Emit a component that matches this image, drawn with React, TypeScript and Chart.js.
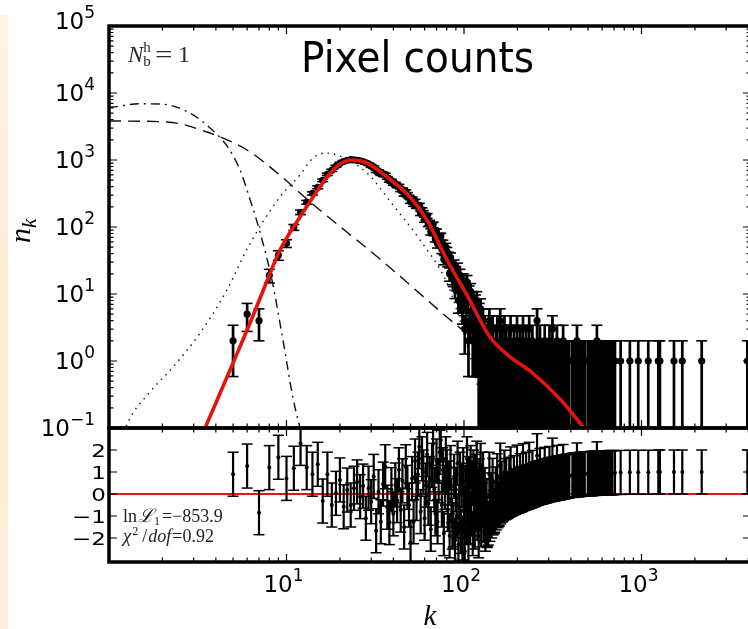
import React, { useEffect, useRef } from "react";
import { Chart, registerables } from "chart.js";

Chart.register(...registerables);

// ---------------- data ----------------
// pixel-count bins k (dense part)
const K_CORE = [
  5, 6, 7, 8, 9, 10, 11, 12, 13, 14,
  15, 16, 17, 18, 19, 20, 21, 22, 23, 24,
  25, 26, 27, 28, 29, 30, 31, 32, 33, 34,
  35, 36, 37, 38, 39, 40, 41, 42, 43, 44,
  45, 46, 47, 48, 49, 50, 51, 52, 53, 54,
  55, 56, 57, 58, 59, 60, 61, 62, 63, 64,
  65, 66, 67, 68, 69, 70, 71, 72, 73, 74,
  75, 76, 77, 78, 79, 80, 81, 82, 83, 84,
  85, 86, 87, 88, 89, 90, 91, 92, 93, 94,
  95, 96, 97, 98, 99, 100, 101, 102, 103, 104,
  105, 106, 107, 108, 109, 110, 111, 112, 113, 114,
  115, 116, 117, 118, 119, 120, 121, 122, 123, 124,
  125, 126, 127, 128, 129, 130,
];
const N_CORE = [
  2, 5, 4, 19, 38, 57, 99, 166, 234, 318,
  391, 498, 612, 702, 806, 893, 957, 991, 1010, 1005,
  990, 975, 945, 910, 875, 804, 788, 678, 686, 614,
  623, 611, 543, 488, 492, 441, 444, 406, 412, 356,
  363, 307, 340, 308, 281, 241, 265, 218, 243, 204,
  207, 211, 161, 180, 163, 129, 139, 147, 112, 115,
  85, 105, 108, 83, 68, 84, 56, 67, 72, 72,
  47, 56, 33, 44, 50, 43, 31, 36, 20, 35,
  26, 18, 17, 27, 12, 21, 15, 24, 8, 14,
  19, 8, 15, 6, 16, 9, 3, 12, 6, 15,
  8, 2, 10, 4, 11, 5, 8, 2, 8, 5,
  2, 7, 4, 8, 2, 4, 1, 5, 2, 6,
  1, 4, 2, 4, 1, 2,
];
const R_CORE = [
  0.9, 1.27, -0.85, 1.2, 1.67, 0.71, 1.17, 2.3, 1.2, 0.9,
  1.35, -0.32, 0.9, -0.5, 0.03, 0.64, -0.58, 0.18, -0.5, 0.26,
  0.55, -0.12, 0.36, -1.1, 0.26, -0.35, 0.8, -1.67, 0.1, -1.26,
  0.45, 1.24, -0.6, -1.3, 0.2, -0.9, 0.41, -0.3, 1.1, -0.73,
  0.6, -1.5, 1.24, 0.3, -0.5, -2.2, 0.7, -1.26, 1.5, -0.2,
  0.9, 2.15, -0.8, 1.6, 1.0, -1.1, 0.4, 1.8, -0.42, 0.7,
  -1.6, 1.3, 2.3, 0.2, -0.9, 1.5, -1.26, 0.6, 1.9, 2.45,
  -0.5, 1.1, -1.8, 0.3, 1.6, 1.0, -0.7, 0.5, -1.9, 1.2,
  -0.3, -1.5, -1.4, 0.8, -2.1, 0.2, -1.0, 1.4, -2.3, -0.6,
  0.9, -1.7, 0.4, -2.0, 1.1, -0.8, -2.6, 0.3, -1.3, 1.6,
  -0.4, -2.2, 0.7, -1.26, 1.2, -0.9, 0.5, -1.8, 1.0, -0.2,
  -1.5, 0.8, -0.6, 1.4, -1.1, 0.1, -1.9, 0.6, -0.7, 1.3,
  -1.4, 0.2, -0.5, 0.9, -1.2, -0.3,
];

// sparse tail (bins with at least one pixel)
const K_TAIL = [
  131, 134, 136, 139, 142, 145, 148, 151, 154, 157,
  160, 163, 166, 169, 173, 176, 180, 183, 187, 191,
  195, 199, 203, 207, 211, 215, 220, 224, 229, 233,
  238, 243, 248, 253, 258, 263, 268, 274, 279, 285,
  291, 297, 303, 309, 315, 321, 328, 334, 341, 348,
  355, 362, 369, 377, 384, 392, 408, 416, 425, 433,
  442, 451, 460, 469, 479, 498, 508, 518, 529, 539,
  550, 561, 573, 584, 596, 608, 620, 633, 646, 659,
  672, 686, 709, 763, 860, 959, 1092, 1244, 1270, 1524,
  1698, 2184, 3950,
];
const N_TAIL = [
  3, 2, 1, 4, 2, 3, 1, 2, 3, 1,
  4, 2, 1, 3, 2, 1, 2, 3, 1, 2,
  1, 3, 1, 2, 1, 3, 1, 2, 1, 3,
  1, 2, 1, 1, 4, 1, 2, 1, 1, 2,
  1, 1, 2, 1, 3, 1, 1, 2, 1, 1,
  1, 2, 1, 1, 1, 1, 1, 1, 1, 2,
  1, 1, 1, 1, 1, 1, 1, 1, 1, 1,
  1, 2, 1, 1, 1, 1, 1, 1, 1, 1,
  1, 1, 1, 1, 1, 1, 1, 1, 1, 1,
  1, 1, 1,
];
const R_TAIL = [
  0.18, -0.35, -1.38, 0.9, -0.04, 0.62, -0.8, 0.23, 0.83, -0.48,
  1.31, 0.49, -0.23, 0.99, 0.61, -0.11, 0.67, 1.14, 0.01, 0.74,
  0.08, 1.22, 0.14, 0.83, 0.2, 1.29, 0.26, 0.9, 0.31, 1.35,
  0.36, 0.98, 0.42, 0.45, 1.74, 0.5, 1.07, 0.54, 0.56, 1.12,
  0.6, 0.62, 1.16, 0.66, 1.54, 0.69, 0.7, 1.21, 0.73, 0.74,
  0.76, 1.25, 0.79, 0.8, 0.81, 0.82, 0.85, 0.85, 0.86, 1.32,
  0.88, 0.89, 0.9, 0.9, 0.91, 0.92, 0.92, 0.93, 0.93, 0.94,
  0.94, 1.37, 0.95, 0.95, 0.95, 0.96, 0.96, 0.96, 0.96, 0.97,
  0.97, 0.97, 0.97, 0.98, 0.99, 0.99, 0.99, 1.0, 1.0, 1.0,
  1.0, 1.0, 1.0,
];

// further single-pixel bins in the tail (n = 1)
const K_SINGLE = [
  132, 135, 137, 140, 143, 146, 149, 152, 155, 158,
  161, 164, 167, 171, 174, 178, 181, 185, 189, 193,
  197, 201, 205, 209, 213, 217, 222, 226, 231, 235,
  240, 245, 250, 255, 260, 265, 271, 276, 282, 288,
  294, 300, 306, 312, 318, 324, 331, 337, 344, 351,
  358, 365, 373, 380, 388,
  412, 420, 429, 437, 446, 455, 464, 474,
  503, 513, 523, 534, 544, 555, 567, 578, 590, 602,
  614, 626, 639, 652, 665, 679,
];
const N_SINGLE = [
  1, 1, 1, 1, 1, 1, 1, 1, 1, 1,
  1, 1, 1, 1, 1, 1, 1, 1, 1, 1,
  1, 1, 1, 1, 1, 1, 1, 1, 1, 1,
  1, 1, 1, 1, 1, 1, 1, 1, 1, 1,
  1, 1, 1, 1, 1, 1, 1, 1, 1, 1,
  1, 1, 1, 1, 1,
  1, 1, 1, 1, 1, 1, 1, 1,
  1, 1, 1, 1, 1, 1, 1, 1, 1, 1,
  1, 1, 1, 1, 1, 1,
];
const R_SINGLE = [
  -1.6, -1.43, -1.32, -1.15, -1.0, -0.86, -0.74, -0.63, -0.53, -0.44,
  -0.36, -0.28, -0.21, -0.17, -0.13, -0.08, -0.05, -0.01, 0.03, 0.06,
  0.1, 0.13, 0.15, 0.18, 0.21, 0.24, 0.27, 0.29, 0.32, 0.34,
  0.37, 0.4, 0.43, 0.46, 0.48, 0.51, 0.53, 0.55, 0.57, 0.59,
  0.61, 0.63, 0.65, 0.66, 0.68, 0.69, 0.71, 0.72, 0.73, 0.75,
  0.76, 0.78, 0.79, 0.81, 0.82,
  0.85, 0.86, 0.87, 0.88, 0.88, 0.89, 0.9, 0.9,
  0.92, 0.93, 0.93, 0.93, 0.94, 0.94, 0.95, 0.95, 0.95, 0.96,
  0.96, 0.96, 0.96, 0.97, 0.97, 0.97,
];

// model curves
const MODEL_K = [3.05, 3.474, 4.806, 6.229, 7.568, 9.193, 11.91, 14.11, 16.91, 20.02, 23.39, 28.41, 36.83, 49.64, 61.88, 80.22, 103.9, 140.1, 181.6, 235.4, 347.4, 468.1, 583];
const MODEL_N = [0.047, 0.1, 0.734, 3.69, 13.2, 45.4, 141, 281, 557, 871, 1000, 902, 557, 281, 127, 32.2, 9.66, 2.28, 1.15, 0.71, 0.271, 0.1035, 0.047];

const DOTTED_K = [1.15, 1.28, 1.7, 2.29, 3.26, 4.62, 6.07, 9.19, 11.9, 14.1, 16.5, 19.3, 28.4, 39.8, 56.5, 80.2, 94.9, 108, 123, 135, 145];
const DOTTED_N = [0.056, 0.123, 0.344, 0.81, 2.62, 11.5, 50, 281, 597, 1072, 1271, 1188, 640, 213, 64, 14.6, 4.1, 1.23, 0.31, 0.13, 0.05];

const DASHED_K = [1, 2.12, 3.56, 5.99, 9.44, 13.6, 33.6, 86.7, 207, 451, 600];
const DASHED_N = [3820, 3690, 2620, 1410, 557, 236, 33.3, 3.8, 0.6, 0.11, 0.05];

const DASHDOT_K = [1, 1.05, 1.5, 2.01, 2.86, 3.71, 4.62, 5.47, 5.99, 7.09, 8.28, 9.55, 10.88, 11.91, 12.7];
const DASHDOT_N = [6100, 6180, 6900, 6800, 5020, 3000, 1620, 710, 356, 84, 16.2, 2.06, 0.28, 0.1, 0.047];

const ZERO_K = [1, 4140];
const ZERO_R = [0, 0];

// axes
const X_MIN = 1;
const X_MAX = 4140;
const Y_MIN = 0.1;
const Y_MAX = 1e5;
const R_MIN = -3.09;
const R_MAX = 3.0;
const Y_LABEL_EXPONENTS = [-1, 0, 1, 2, 3, 4, 5];
const X_LABEL_EXPONENTS = [1, 2, 3];
const R_TICKS = [-2, -1, 0, 1, 2];

const TITLE = "Pixel counts";
const LNL_VALUE = "\u2212853.9";
const CHI2_VALUE = "0.92";
const NBH_VALUE = "1";

// ---------------- helpers ----------------
const SANS = '"DejaVu Sans", sans-serif';
const SERIF = '"Liberation Serif", "DejaVu Serif", serif';
const RED = "#e2140c";

const ALL_K = [...K_CORE, ...K_TAIL, ...K_SINGLE];
const ALL_N = [...N_CORE, ...N_TAIL, ...N_SINGLE];
const ALL_R = [...R_CORE, ...R_TAIL, ...R_SINGLE];

function pts(ks: number[], vs: number[]) {
  return ks.map((k, i) => ({ x: k, y: vs[i] }));
}

function errorData(ks: number[], lo: number[], hi: number[]) {
  const seg: any[] = [];
  const caps: any[] = [];
  ks.forEach((k, i) => {
    seg.push({ x: k, y: lo[i] }, { x: k, y: hi[i] }, { x: k, y: null });
    caps.push({ x: k, y: lo[i] }, { x: k, y: hi[i] });
  });
  return { seg, caps };
}

function logTickValues(min: number, max: number) {
  const out: { v: number; major: boolean }[] = [];
  for (let e = Math.floor(Math.log10(min)); e <= Math.ceil(Math.log10(max)); e++) {
    for (let m = 1; m <= 9; m++) {
      const v = m * Math.pow(10, e);
      if (v >= min * 0.9999 && v <= max * 1.0001) out.push({ v, major: m === 1 });
    }
  }
  return out;
}

function drawFrame(ctx: any, a: any, xs: any, ys: any, yTicks: { v: number; major: boolean }[]) {
  ctx.save();
  ctx.strokeStyle = "#000";
  ctx.lineWidth = 1.2;
  ctx.beginPath();
  for (const t of logTickValues(X_MIN, X_MAX)) {
    const px = xs.getPixelForValue(t.v);
    const len = t.major ? 8 : 4.5;
    ctx.moveTo(px, a.top);
    ctx.lineTo(px, a.top + len);
    ctx.moveTo(px, a.bottom);
    ctx.lineTo(px, a.bottom - len);
  }
  for (const t of yTicks) {
    const py = ys.getPixelForValue(t.v);
    const len = t.major ? 8 : 4.5;
    ctx.moveTo(a.left, py);
    ctx.lineTo(a.left + len, py);
    ctx.moveTo(a.right, py);
    ctx.lineTo(a.right - len, py);
  }
  ctx.stroke();
  ctx.lineWidth = 3.5;
  ctx.strokeRect(a.left, a.top, a.right - a.left, a.bottom - a.top);
  ctx.restore();
}

function drawPow(ctx: any, exp: number, x: number, baseY: number, align: string) {
  const base = "10";
  const sup = exp < 0 ? "\u2212" + Math.abs(exp) : String(exp);
  ctx.font = `23px ${SANS}`;
  const wb = ctx.measureText(base).width;
  ctx.font = `17px ${SANS}`;
  const ws = ctx.measureText(sup).width;
  const total = wb + ws;
  const x0 = align === "right" ? x - total : x - total / 2;
  ctx.textAlign = "left";
  ctx.textBaseline = "alphabetic";
  ctx.font = `23px ${SANS}`;
  ctx.fillText(base, x0, baseY);
  ctx.font = `17px ${SANS}`;
  ctx.fillText(sup, x0 + wb, baseY - 11);
}

const topDecor = {
  id: "topDecor",
  afterDraw(chart: any) {
    const { ctx, chartArea: a, scales } = chart;
    drawFrame(ctx, a, scales.x, scales.y, logTickValues(Y_MIN, Y_MAX));
    ctx.save();
    ctx.fillStyle = "#000";
    for (const e of Y_LABEL_EXPONENTS) {
      const py = scales.y.getPixelForValue(Math.pow(10, e));
      const lift = py - a.top < 10 ? 5 : 0;
      drawPow(ctx, e, a.left - 14, py + 7.5 - lift, "right");
    }
    // y-axis title n_k
    ctx.save();
    ctx.translate(30, (a.top + a.bottom) / 2 + 16);
    ctx.rotate(-Math.PI / 2);
    ctx.textAlign = "left";
    ctx.textBaseline = "alphabetic";
    ctx.font = `italic 30px ${SERIF}`;
    ctx.fillText("n", 0, 0);
    const wn = ctx.measureText("n").width;
    ctx.font = `italic 21px ${SERIF}`;
    ctx.fillText("k", wn, 6);
    ctx.restore();
    // title
    ctx.font = `42px ${SANS}`;
    ctx.textAlign = "left";
    const tw = ctx.measureText(TITLE).width;
    ctx.save();
    ctx.translate(a.left + 192, a.top + 46);
    ctx.scale(233 / tw, 1);
    ctx.fillText(TITLE, 0, 0);
    ctx.restore();
    // N_b^h = 1
    ctx.fillStyle = "#2a2a2a";
    const nx = a.left + 19;
    const ny = a.top + 36;
    ctx.font = `italic 23px ${SERIF}`;
    ctx.fillText("N", nx, ny);
    const wN = ctx.measureText("N").width;
    ctx.font = `15px ${SERIF}`;
    ctx.fillText("h", nx + wN, ny - 10);
    ctx.fillText("b", nx + wN, ny + 4);
    ctx.font = `23px ${SERIF}`;
    ctx.save();
    ctx.translate(nx + 27, ny);
    ctx.scale(1.35, 1);
    ctx.fillText("=", 0, 0);
    ctx.restore();
    ctx.font = `24px ${SERIF}`;
    ctx.fillText(NBH_VALUE, nx + 50, ny);
    ctx.restore();
  },
};

const botDecor = {
  id: "botDecor",
  afterDraw(chart: any) {
    const { ctx, chartArea: a, scales } = chart;
    drawFrame(ctx, a, scales.x, scales.y, R_TICKS.map((v) => ({ v, major: true })));
    ctx.save();
    ctx.fillStyle = "#000";
    ctx.textBaseline = "alphabetic";
    for (const v of R_TICKS) {
      const py = scales.y.getPixelForValue(v);
      const txt = v < 0 ? "\u2212" + Math.abs(v) : String(v);
      ctx.save();
      ctx.translate(a.left - 3, py + 6.6);
      ctx.scale(1, 0.78);
      ctx.font = `23px ${SANS}`;
      ctx.textAlign = "right";
      ctx.fillText(txt, 0, 0);
      ctx.restore();
    }
    for (const e of X_LABEL_EXPONENTS) {
      const px = scales.x.getPixelForValue(Math.pow(10, e));
      drawPow(ctx, e, px - 3, a.bottom + 30, "center");
    }
    // x title
    ctx.font = `italic 29px ${SERIF}`;
    ctx.textAlign = "center";
    ctx.fillText("k", (a.left + a.right) / 2, a.bottom + 63);
    // stats
    ctx.fillStyle = "#222";
    ctx.textAlign = "left";
    let x = a.left + 14;
    const y1 = a.top + 93.5;
    ctx.font = `18px ${SERIF}`;
    ctx.fillText("ln", x, y1);
    x += ctx.measureText("ln").width + 1;
    ctx.font = `italic 19px ${SERIF}`;
    ctx.fillText("\u2112", x, y1);
    x += ctx.measureText("\u2112").width;
    ctx.font = `12px ${SERIF}`;
    ctx.fillText("1", x, y1 + 3);
    x += ctx.measureText("1").width + 2;
    ctx.font = `18px ${SERIF}`;
    ctx.fillText("=" + LNL_VALUE, x, y1);

    x = a.left + 14;
    const y2 = a.top + 113.5;
    ctx.font = `italic 19px ${SERIF}`;
    ctx.fillText("\u03c7", x, y2);
    x += ctx.measureText("\u03c7").width + 1;
    ctx.font = `12px ${SERIF}`;
    ctx.fillText("2", x, y2 - 7);
    x += ctx.measureText("2").width + 4;
    ctx.font = `18px ${SERIF}`;
    ctx.fillText("/", x, y2);
    x += ctx.measureText("/").width + 1;
    ctx.font = `italic 18px ${SERIF}`;
    ctx.fillText("dof", x, y2);
    x += ctx.measureText("dof").width + 1;
    ctx.font = `18px ${SERIF}`;
    ctx.fillText("=" + CHI2_VALUE, x, y2);
    ctx.restore();
  },
};

function topConfig(): any {
  const lo = ALL_N.map((n) => Math.max(n - Math.sqrt(n), 1e-3));
  const hi = ALL_N.map((n) => n + Math.sqrt(n));
  const eb = errorData(ALL_K, lo, hi);
  const curve = (ks: number[], ns: number[], dash: number[], order: number) => ({
    type: "line",
    data: pts(ks, ns),
    borderColor: "#111",
    borderWidth: 1.4,
    borderDash: dash,
    pointRadius: 0,
    showLine: true,
    cubicInterpolationMode: "monotone",
    order,
    clip: 0,
  });
  return {
    type: "scatter",
    data: {
      datasets: [
        {
          type: "line",
          label: "model",
          data: pts(MODEL_K, MODEL_N),
          borderColor: RED,
          borderWidth: 3.6,
          pointRadius: 0,
          showLine: true,
          cubicInterpolationMode: "monotone",
          order: 0,
          clip: 0,
        },
        {
          type: "scatter",
          label: "counts",
          data: pts(ALL_K, ALL_N),
          pointRadius: 3.6,
          pointHoverRadius: 0,
          pointBackgroundColor: "#000",
          pointBorderWidth: 0,
          showLine: false,
          order: 1,
          clip: 0,
        },
        {
          type: "scatter",
          label: "caps",
          data: eb.caps,
          pointStyle: "line",
          pointRadius: 5.5,
          pointHoverRadius: 0,
          pointBorderColor: "#000",
          pointBorderWidth: 1.6,
          showLine: false,
          order: 2,
          clip: 0,
        },
        {
          type: "line",
          label: "bars",
          data: eb.seg,
          borderColor: "#000",
          borderWidth: 2.7,
          pointRadius: 0,
          showLine: true,
          spanGaps: false,
          order: 3,
          clip: 0,
        },
        curve(DOTTED_K, DOTTED_N, [1.5, 5], 4),
        curve(DASHED_K, DASHED_N, [12, 7], 5),
        curve(DASHDOT_K, DASHDOT_N, [9, 5, 2, 5], 6),
      ],
    },
    options: {
      animation: false,
      responsive: false,
      maintainAspectRatio: false,
      devicePixelRatio: 1,
      events: [],
      layout: { autoPadding: false, padding: { left: 109, top: 26, right: 1, bottom: 14 } },
      scales: {
        x: { type: "logarithmic", min: X_MIN, max: X_MAX, display: false },
        y: { type: "logarithmic", min: Y_MIN, max: Y_MAX, display: false },
      },
      plugins: { legend: { display: false }, tooltip: { enabled: false } },
    },
    plugins: [topDecor],
  };
}

function botConfig(): any {
  const lo = ALL_R.map((r) => r - 1);
  const hi = ALL_R.map((r) => r + 1);
  const eb = errorData(ALL_K, lo, hi);
  return {
    type: "scatter",
    data: {
      datasets: [
        {
          type: "scatter",
          label: "residuals",
          data: pts(ALL_K, ALL_R),
          pointRadius: 2,
          pointHoverRadius: 0,
          pointBackgroundColor: "#000",
          pointBorderWidth: 0,
          showLine: false,
          order: 0,
          clip: 0,
        },
        {
          type: "scatter",
          label: "caps",
          data: eb.caps,
          pointStyle: "line",
          pointRadius: 5.5,
          pointHoverRadius: 0,
          pointBorderColor: "#000",
          pointBorderWidth: 1.5,
          showLine: false,
          order: 1,
          clip: 0,
        },
        {
          type: "line",
          label: "bars",
          data: eb.seg,
          borderColor: "#000",
          borderWidth: 2.2,
          pointRadius: 0,
          showLine: true,
          spanGaps: false,
          order: 2,
          clip: 0,
        },
        {
          type: "line",
          label: "zero",
          data: pts(ZERO_K, ZERO_R),
          borderColor: "#f01010",
          borderWidth: 2,
          pointRadius: 0,
          showLine: true,
          order: 3,
          clip: 0,
        },
      ],
    },
    options: {
      animation: false,
      responsive: false,
      maintainAspectRatio: false,
      devicePixelRatio: 1,
      events: [],
      layout: { autoPadding: false, padding: { left: 109, top: 2, right: 1, bottom: 67 } },
      scales: {
        x: { type: "logarithmic", min: X_MIN, max: X_MAX, display: false },
        y: { type: "linear", min: R_MIN, max: R_MAX, display: false },
      },
      plugins: { legend: { display: false }, tooltip: { enabled: false } },
    },
    plugins: [botDecor],
  };
}

export default function App() {
  const topRef = useRef<HTMLCanvasElement>(null);
  const botRef = useRef<HTMLCanvasElement>(null);
  useEffect(() => {
    const top = new Chart(topRef.current as HTMLCanvasElement, topConfig());
    const bot = new Chart(botRef.current as HTMLCanvasElement, botConfig());
    return () => {
      top.destroy();
      bot.destroy();
    };
  }, []);
  return (
    <div
      style={{
        position: "absolute",
        left: 0,
        top: 0,
        width: 748,
        height: 629,
        overflow: "hidden",
        background: "#fff",
      }}
    >
      <div
        style={{
          position: "absolute",
          left: 0,
          top: 15,
          width: 8,
          height: 614,
          background: "linear-gradient(180deg, #fdf3e2 0%, #fbecd3 50%, #fcefd9 100%)",
        }}
      />
      <canvas
        ref={topRef}
        width={752}
        height={442}
        style={{ position: "absolute", left: 0, top: 0, width: 752, height: 442 }}
      />
      <canvas
        ref={botRef}
        width={752}
        height={203}
        style={{ position: "absolute", left: 0, top: 426, width: 752, height: 203 }}
      />
    </div>
  );
}
